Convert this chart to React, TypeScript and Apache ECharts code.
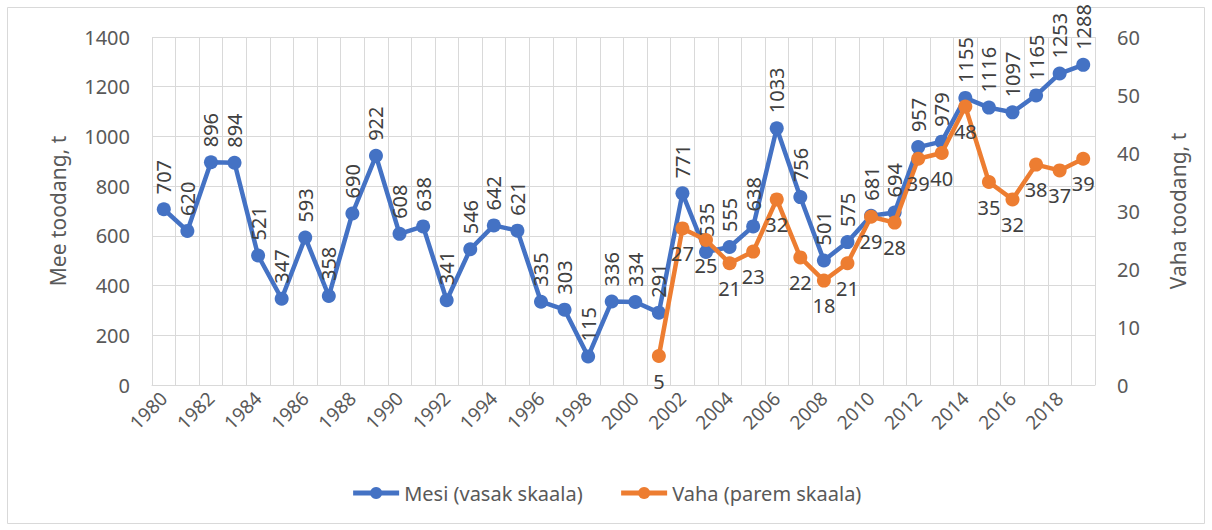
import React, { useEffect, useRef } from "react";
import * as echarts from "echarts";

const years: string[] = [
  "1980","1981","1982","1983","1984","1985","1986","1987","1988","1989",
  "1990","1991","1992","1993","1994","1995","1996","1997","1998","1999",
  "2000","2001","2002","2003","2004","2005","2006","2007","2008","2009",
  "2010","2011","2012","2013","2014","2015","2016","2017","2018","2019",
];

const honey: number[] = [
  707, 620, 896, 894, 521, 347, 593, 358, 690, 922,
  608, 638, 341, 546, 642, 621, 335, 303, 115, 336,
  334, 291, 771, 535, 555, 638, 1033, 756, 501, 575,
  681, 694, 957, 979, 1155, 1116, 1097, 1165, 1253, 1288,
];

const wax: (number | null)[] = [
  null, null, null, null, null, null, null, null, null, null,
  null, null, null, null, null, null, null, null, null, null,
  null, 5, 27, 25, 21, 23, 32, 22, 18, 21,
  29, 28, 39, 40, 48, 35, 32, 38, 37, 39,
];

const leftName = "Mee toodang, t";
const rightName = "Vaha toodang, t";
const honeyName = "Mesi (vasak skaala)";
const waxName = "Vaha (parem skaala)";

const FONT = "'Noto Sans', sans-serif";
const GRAY = "#595959";

export default function App() {
  const ref = useRef<HTMLDivElement>(null);
  useEffect(() => {
    if (!ref.current) return;
    const chart = echarts.init(ref.current, null, { renderer: "svg" });
    chart.setOption({
      animation: false,
      textStyle: { fontFamily: FONT },
      graphic: [
        {
          type: "rect",
          shape: { x: 7.5, y: 7.5, width: 1197, height: 516 },
          style: { fill: "none", stroke: "#d9d9d9", lineWidth: 1 },
          silent: true,
        },
      ],
      legend: {
        bottom: 22,
        left: "center",
        itemWidth: 46,
        itemHeight: 15,
        itemGap: 36,
        lineStyle: { width: 5 },
        textStyle: { color: GRAY, fontSize: 20, fontFamily: FONT },
        data: [honeyName, waxName],
      },
      grid: { left: 152, right: 117, top: 37, bottom: 145 },
      xAxis: {
        type: "category",
        data: years,
        boundaryGap: true,
        axisLine: { show: true, lineStyle: { color: "#d9d9d9", width: 1 } },
        axisTick: { show: false },
        axisLabel: {
          interval: 1,
          rotate: 45,
          color: GRAY,
          fontSize: 19,
          fontFamily: FONT,
          margin: 10,
        },
        splitLine: {
          show: true,
          interval: 0,
          lineStyle: { color: "#d9d9d9", width: 1 },
        },
      },
      yAxis: [
        {
          type: "value",
          min: 0,
          max: 1400,
          interval: 200,
          name: leftName,
          nameLocation: "middle",
          nameGap: 84,
          nameTextStyle: { color: GRAY, fontSize: 21, fontFamily: FONT },
          axisLabel: {
            color: GRAY,
            fontSize: 20,
            fontFamily: FONT,
            margin: 22,
            formatter: (v: number) => String(v),
          },
          axisLine: { show: false },
          axisTick: { show: false },
          splitLine: { lineStyle: { color: "#d9d9d9", width: 1 } },
        },
        {
          type: "value",
          min: 0,
          max: 60,
          interval: 10,
          name: rightName,
          nameLocation: "middle",
          nameGap: 72,
          nameRotate: 90,
          nameTextStyle: { color: GRAY, fontSize: 21, fontFamily: FONT },
          axisLabel: { color: GRAY, fontSize: 20, fontFamily: FONT, margin: 22 },
          axisLine: { show: false },
          axisTick: { show: false },
          splitLine: { show: false },
        },
      ],
      series: [
        {
          name: honeyName,
          type: "line",
          yAxisIndex: 0,
          data: honey,
          symbol: "circle",
          symbolSize: 14,
          lineStyle: { color: "#4472C4", width: 4.5 },
          itemStyle: { color: "#4472C4" },
          label: {
            show: true,
            position: "top",
            distance: 8,
            rotate: 90,
            align: "left",
            verticalAlign: "middle",
            color: "#404040",
            fontSize: 20,
            fontFamily: FONT,
          },
          z: 2,
        },
        {
          name: waxName,
          type: "line",
          yAxisIndex: 1,
          data: wax,
          symbol: "circle",
          symbolSize: 14,
          lineStyle: { color: "#ED7D31", width: 4.5 },
          itemStyle: { color: "#ED7D31" },
          label: {
            show: true,
            position: "bottom",
            distance: 8,
            color: "#404040",
            fontSize: 20,
            fontFamily: FONT,
          },
          z: 3,
        },
      ],
    });
    return () => chart.dispose();
  }, []);
  return (
    <div
      ref={ref}
      style={{ position: "fixed", left: 0, top: 0, width: 1212, height: 530, background: "#fff" }}
    />
  );
}
